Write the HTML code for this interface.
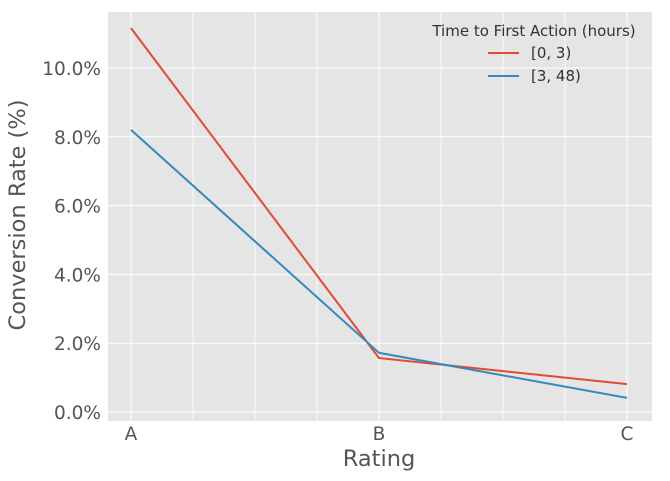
<!DOCTYPE html>
<html><head><meta charset="utf-8"><style>
body{margin:0;background:#fff;}
svg{display:block;font-family:"DejaVu Sans","Liberation Sans",sans-serif;}
</style></head><body>
<svg id="chart" width="670" height="481">
<rect x="108" y="12" width="544" height="409" fill="#e5e5e5"/>
<g id="grid"></g><g id="ticks"></g><g id="series"></g>
<text x="25" y="215" transform="rotate(-90 25 215)" text-anchor="middle" font-size="22.5" fill="#555">Conversion Rate (%)</text>
<text x="379" y="466" text-anchor="middle" font-size="22.5" fill="#555">Rating</text>
<g>
<text x="534" y="36" text-anchor="middle" font-size="15" fill="#333">Time to First Action (hours)</text>
<g><line x1="488" y1="53" x2="519" y2="53" stroke="#E24A33" stroke-width="2"/><text x="531" y="58" font-size="15" fill="#333">[0, 3)</text></g>
<g><line x1="488" y1="76" x2="519" y2="76" stroke="#348ABD" stroke-width="2"/><text x="531" y="81" font-size="15" fill="#333">[3, 48)</text></g>
</g>
</svg>
<script>
const categories=["A","B","C"];
const seriesFast=[11.16,1.57,0.81];
const seriesSlow=[8.2,1.72,0.41];
const yTicks=[0,2,4,6,8,10];
const yTickLabels=["0.0%","2.0%","4.0%","6.0%","8.0%","10.0%"];
const NS="http://www.w3.org/2000/svg";
const xS=i=>131+i*248;
const yS=v=>412-v*34.4;
function mk(tag,attrs,parent){const e=document.createElementNS(NS,tag);for(const k in attrs)e.setAttribute(k,attrs[k]);parent.appendChild(e);return e;}
const grid=document.getElementById('grid'),ticks=document.getElementById('ticks'),ser=document.getElementById('series');
yTicks.forEach((t,i)=>{
 const l=mk('line',{x1:108,x2:652,y1:yS(t),y2:yS(t),stroke:'#fff','stroke-width':1},grid);
 
 
 const tx=mk('text',{x:101,y:yS(t)+7,'text-anchor':'end','font-size':'18.5',fill:'#555'},ticks);
 tx.textContent=yTickLabels[i];
 
 
});
for(let k=0;k<=8;k++){
 const x=131+k*62;
 const l=mk('line',{x1:x,x2:x,y1:12,y2:421,stroke:'#fff','stroke-width':k%4===0?1:0.8},grid);
 
 
}
categories.forEach((c,i)=>{
 const tx=mk('text',{x:xS(i),y:440,'text-anchor':'middle','font-size':'18.5',fill:'#555'},ticks);
 tx.textContent=c;
 
 
});
[[seriesFast,'#E24A33','line-0-3'],[seriesSlow,'#348ABD','line-3-48']].forEach(([d,col,name])=>{
 const p=mk('polyline',{points:d.map((v,i)=>xS(i)+','+yS(v)).join(' '),fill:'none',stroke:col,'stroke-width':2},ser);
 
 
});
</script>
</body></html>
